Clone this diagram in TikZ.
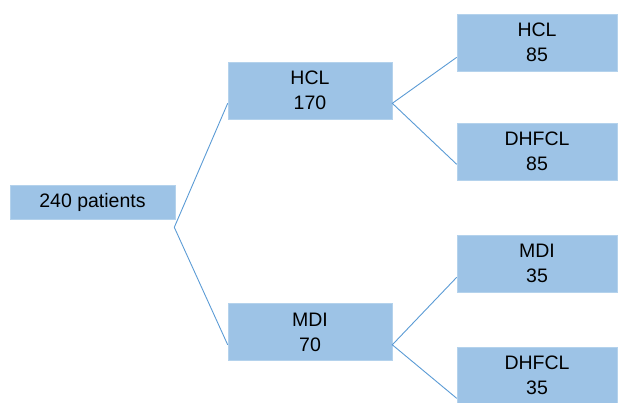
\documentclass[tikz,border=0pt]{standalone}
\usepackage{fontspec}
\setmainfont{Liberation Sans}
\definecolor{boxfill}{HTML}{9DC3E6}
\definecolor{boxedge}{HTML}{B4D2EC}
\definecolor{linkcol}{HTML}{5B9BD5}
\begin{document}
\begin{tikzpicture}[x=1pt,y=-1pt,
  box/.style={draw=boxedge,line width=0.6pt,fill=boxfill,inner sep=0pt,align=center,
    font=\fontsize{19.5}{25}\selectfont,text=black},
  link/.style={draw=linkcol,line width=0.9pt}]
\clip (0,0) rectangle (619,402);
\useasboundingbox (0,0) rectangle (619,402);
\node[box,minimum width=165pt,minimum height=34pt] (root) at (92.5,202) {240 patients};
\node[box,minimum width=164pt,minimum height=57pt] (hcl) at (310,90.5) {HCL\\170};
\node[box,minimum width=164pt,minimum height=57pt] (mdi) at (310,332) {MDI\\70};
\node[box,minimum width=160pt,minimum height=57pt] (hcla) at (537,42.5) {HCL\\85};
\node[box,minimum width=160pt,minimum height=57pt] (dhfa) at (537,151.5) {DHFCL\\85};
\node[box,minimum width=160pt,minimum height=57pt] (mdia) at (537,263.5) {MDI\\35};
\node[box,minimum width=160pt,minimum height=57pt] (dhfb) at (537,375.5) {DHFCL\\35};
\coordinate (rv) at ([yshift=-8pt,xshift=-1pt]root.south east);
\coordinate (hv) at ([yshift=16pt]hcl.south east);
\coordinate (mv) at ([yshift=16pt]mdi.south east);
\draw[link] ([yshift=16pt]hcl.south west) -- (rv) -- ([yshift=16pt]mdi.south west);
\draw[link] ([yshift=14pt]hcla.south west) -- (hv) -- ([yshift=16pt]dhfa.south west);
\draw[link] ([yshift=15pt]mdia.south west) -- (mv) -- ([yshift=6pt]dhfb.south west);
\end{tikzpicture}
\end{document}
